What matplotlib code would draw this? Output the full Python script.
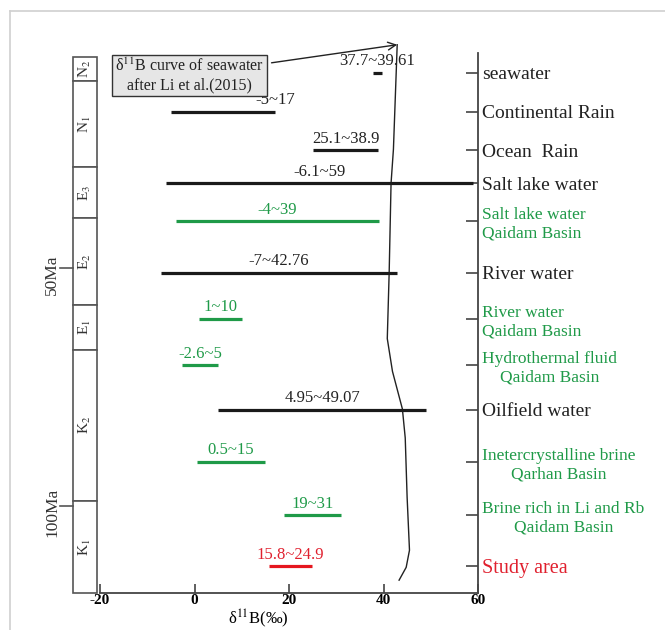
import matplotlib
matplotlib.use("Agg")
import matplotlib.pyplot as plt
import matplotlib.transforms as mtransforms
from matplotlib.patches import Rectangle
from matplotlib.lines import Line2D

plt.rcParams['font.family'] = ['Liberation Serif', 'DejaVu Serif']
plt.rcParams['mathtext.fontset'] = 'stix'

# ---------------- data ----------------
rows = ['seawater', 'Continental Rain', 'Ocean  Rain', 'Salt lake water',
        'Salt lake water\nQaidam Basin', 'River water', 'River water\nQaidam Basin',
        'Hydrothermal fluid\nQaidam Basin', 'Oilfield water',
        'Inetercrystalline brine\nQarhan Basin', 'Brine rich in Li and Rb\nQaidam Basin',
        'Study area']
groups = ['ref', 'ref', 'ref', 'ref', 'qaidam', 'ref', 'qaidam', 'qaidam', 'ref',
          'qaidam', 'qaidam', 'study']
low = [37.7, -5, 25.1, -6.1, -4, -7, 1, -2.6, 4.95, 0.5, 19, 15.8]
high = [39.61, 17, 38.9, 59, 39, 42.76, 10, 5, 49.07, 15, 31, 24.9]
range_labels = ['37.7~39.61', '-5~17', '25.1~38.9', '-6.1~59', '-4~39', '-7~42.76',
                '1~10', '-2.6~5', '4.95~49.07', '0.5~15', '19~31', '15.8~24.9']
label_anchor = ['mid', 'hi', 'mid', 'mid', 'mid', 'mid', 'mid', 'mid', 'mid', 'mid', 'mid', 'mid']
row_align = ['left', 'left', 'left', 'left', 'left', 'left', 'left', 'center', 'left',
             'center', 'center', 'left']
# row positions along the age axis (Ma)
row_age = [9.0, 17.2, 25.3, 32.2, 40.2, 51.0, 60.7, 70.5, 79.9, 90.8, 102.1, 112.8]

# geological column (Ma boundaries as drawn)
period_names = ['N$_2$', 'N$_1$', 'E$_3$', 'E$_2$', 'E$_1$', 'K$_2$', 'K$_1$']
period_top = [5.6, 10.7, 28.9, 39.5, 57.9, 67.2, 99.0]
period_bottom = [10.7, 28.9, 39.5, 57.9, 67.2, 99.0, 118.4]
age_ticks = [50, 100]
age_tick_labels = ['50Ma', '100Ma']

# seawater d11B curve (Li et al., 2015)
curve_d11b = [42.9, 42.1, 41.6, 41.2, 40.8, 41.9, 44.0, 44.6, 45.0, 45.5, 44.8, 43.3]
curve_age = [3.1, 25.1, 32.2, 51.0, 64.9, 71.8, 79.7, 85.8, 98.3, 109.4, 113.0, 115.7]

xticks = [-20, 0, 20, 40, 60]

colors = {'ref': '#1a1a1a', 'qaidam': '#1f9a48', 'study': '#e5171f'}
text_colors = {'ref': '#222222', 'qaidam': '#1f9a48', 'study': '#e0202e'}
label_sizes = {'ref': 14, 'qaidam': 12.5, 'study': 14.5}

# ---------------- figure ----------------
fig = plt.figure(figsize=(6.65, 6.3), dpi=100)
ax = fig.add_axes([100 / 665, 37 / 630, 378 / 665, 563 / 630])
ax.set_xlim(-20, 60)
ax.set_ylim(118.4, 0)

for s in ['left', 'top']:
    ax.spines[s].set_visible(False)
ax.spines['right'].set_bounds(4.8, 118.4)
ax.spines['right'].set_color('#444444')
ax.spines['bottom'].set_color('#444444')
ax.spines['right'].set_linewidth(1.3)
ax.spines['bottom'].set_linewidth(1.3)

ax.set_xticks(xticks)
ax.set_xticklabels([str(t) for t in xticks], fontsize=11, fontweight='bold')
ax.tick_params(axis='x', direction='in', length=6.5, width=1.2, color='#444444', pad=1)

ax.yaxis.tick_right()
ax.set_yticks(row_age)
ax.set_yticklabels(rows)
ax.tick_params(axis='y', direction='in', length=8.5, width=1.2, color='#444444', pad=3,
               left=False, right=True)
for tl, g, al in zip(ax.get_yticklabels(), groups, row_align):
    tl.set_color(text_colors[g])
    tl.set_fontsize(label_sizes[g])
    tl.set_multialignment(al)

# bars and range labels
for lo, hi, y, g, lab, anc in zip(low, high, row_age, groups, range_labels, label_anchor):
    ax.plot([lo, hi], [y, y], color=colors[g], lw=2.3, solid_capstyle='butt', zorder=3)
    xl = (lo + hi) / 2 if anc == 'mid' else hi
    ax.annotate(lab, (xl, y), xytext=(0, 2.5), textcoords='offset points',
                ha='center', va='bottom', fontsize=12, color=text_colors[g], zorder=4)

# seawater curve
ax.plot(curve_d11b, curve_age, color='#222222', lw=1.0, clip_on=False, zorder=2)

# annotation box and arrow
ax.text(-1.1, 9.6, 'δ$^{11}$B curve of seawater\nafter Li et al.(2015)', ha='center',
        va='center', fontsize=11.5, color='#222222', multialignment='center',
        bbox=dict(boxstyle='square,pad=0.18', facecolor='#e6e6e6', edgecolor='#333333', lw=1.0),
        zorder=5)
ax.annotate('', xy=(curve_d11b[0], curve_age[0]), xytext=(16.3, 6.9),
            arrowprops=dict(arrowstyle='->', color='#222222', lw=1.0,
                            shrinkA=0, shrinkB=0, mutation_scale=14),
            annotation_clip=False)

# x label
ax.set_xlabel('δ$^{11}$B(‰)', fontsize=12, va='center')
ax.xaxis.set_label_coords(0.418, -0.045)

# geological column
trans = mtransforms.blended_transform_factory(ax.transAxes, ax.transData)
col_x0 = (73 - 100) / 378
col_x1 = (97 - 100) / 378
for name, t, b in zip(period_names, period_top, period_bottom):
    ax.add_patch(Rectangle((col_x0, t), col_x1 - col_x0, b - t, transform=trans,
                           facecolor='white', edgecolor='#555555', lw=1.2, clip_on=False))
    ax.text((col_x0 + col_x1) / 2, (t + b) / 2, name, transform=trans, rotation=90,
            ha='center', va='center', fontsize=11, color='#333333')

tick_x0 = (60 - 100) / 378
for a, lab in zip(age_ticks, age_tick_labels):
    ax.plot([tick_x0, col_x0], [a, a], transform=trans, color='#555555', lw=1.2, clip_on=False)
    ax.text((52 - 100) / 378, a + 1.5, lab, transform=trans, rotation=90,
            ha='center', va='center', fontsize=12.5, color='#333333')

# light frame around image
fig.add_artist(Line2D([10 / 665, 1], [1 - 11 / 630, 1 - 11 / 630], color='#d0d0d0', lw=1.2))
fig.add_artist(Line2D([10 / 665, 10 / 665], [0, 1 - 11 / 630], color='#d0d0d0', lw=1.2))

fig.savefig('out.png', dpi=100)
